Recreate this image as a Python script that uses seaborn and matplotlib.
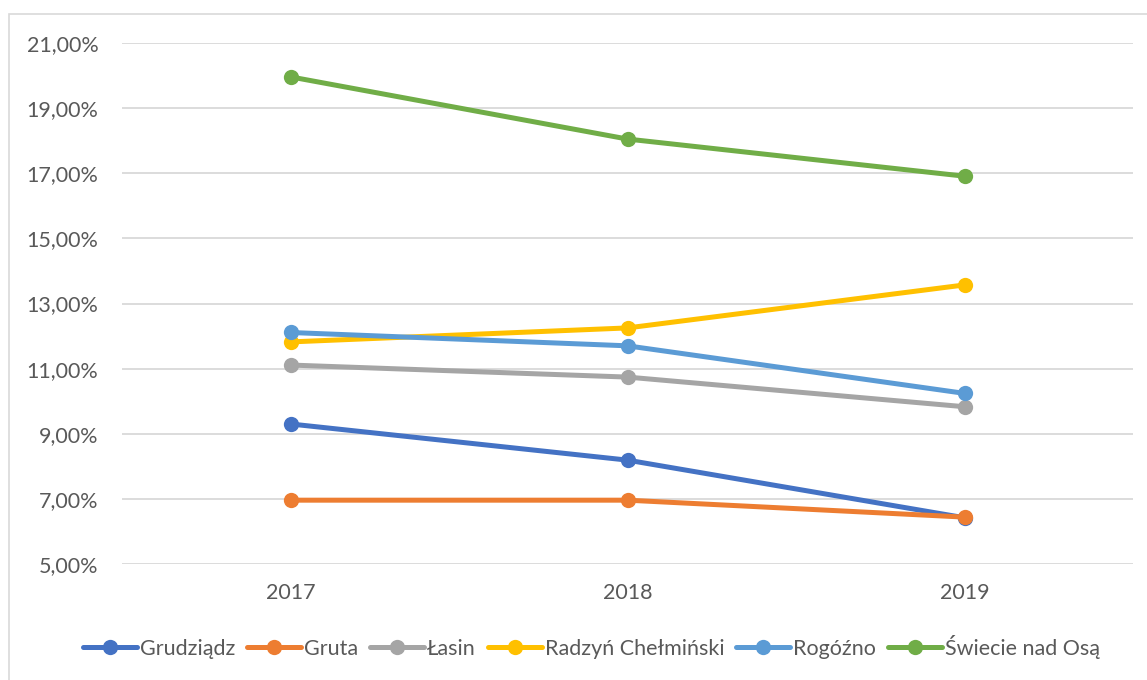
import matplotlib
matplotlib.use("Agg")
import matplotlib.pyplot as plt
from matplotlib.patches import Rectangle
from matplotlib.ticker import FuncFormatter
import seaborn as sns
import pandas as pd

years = ["2017", "2018", "2019"]
grudziadz = [9.30, 8.19, 6.42]
gruta = [6.96, 6.96, 6.44]
lasin = [11.11, 10.74, 9.83]
radzyn = [11.82, 12.25, 13.57]
rogozno = [12.11, 11.70, 10.24]
swiecie = [19.96, 18.05, 16.91]
y_ticks = [5, 7, 9, 11, 13, 15, 17, 19, 21]

series_names = ["Grudziądz", "Gruta", "Łasin", "Radzyń Chełmiński", "Rogóźno", "Świecie nad Osą"]
series_values = [grudziadz, gruta, lasin, radzyn, rogozno, swiecie]
colors = ["#4472C4", "#ED7D31", "#A5A5A5", "#FFC000", "#5B9BD5", "#70AD47"]

rows = []
for name, vals in zip(series_names, series_values):
    for y, v in zip(years, vals):
        rows.append({"Rok": y, "Wartość": v, "Gmina": name})
df = pd.DataFrame(rows)

sns.set_theme(style="white")
plt.rcParams["font.family"] = ["Lato", "DejaVu Sans"]
text_color = "#595959"

fig = plt.figure(figsize=(11.47, 6.80), dpi=100)
ax = fig.add_axes([122/1147, (680-564)/680, (1133-122)/1147, (564-43)/680])

sns.lineplot(data=df, x="Rok", y="Wartość", hue="Gmina", hue_order=series_names,
             palette=colors, marker="o", markersize=11, markeredgewidth=0,
             linewidth=3.6, sort=False, ax=ax)

ax.set_xlim(-0.5, 2.5)
ax.set_ylim(5, 21)
ax.set_yticks(y_ticks)
ax.yaxis.set_major_formatter(FuncFormatter(lambda v, p: f"{v:.2f}%".replace(".", ",")))
ax.grid(axis="y", color="#D9D9D9", linewidth=1.3)
ax.grid(axis="x", visible=False)
ax.set_axisbelow(True)
for s in ax.spines.values():
    s.set_visible(False)
ax.set_xlabel("")
ax.set_ylabel("")
ax.tick_params(axis="y", length=0, pad=17, labelsize=15.5, labelcolor=text_color)
ax.tick_params(axis="x", length=0, pad=14, labelsize=15.5, labelcolor=text_color)

handles, labels = ax.get_legend_handles_labels()
ax.legend_.remove()
fig.legend(handles, labels, loc="center", bbox_to_anchor=(591.5/1147, (680-647)/680), ncol=6,
           frameon=False, fontsize=15.5, labelcolor=text_color, handlelength=2.5,
           handletextpad=0.15, columnspacing=0.55)

fig.patches.append(Rectangle((9/1147, -0.05), 1.2, (680-14)/680 + 0.05,
                             transform=fig.transFigure, fill=False,
                             edgecolor="#D9D9D9", linewidth=1.2))

fig.savefig("out.png", dpi=100, facecolor="white")
